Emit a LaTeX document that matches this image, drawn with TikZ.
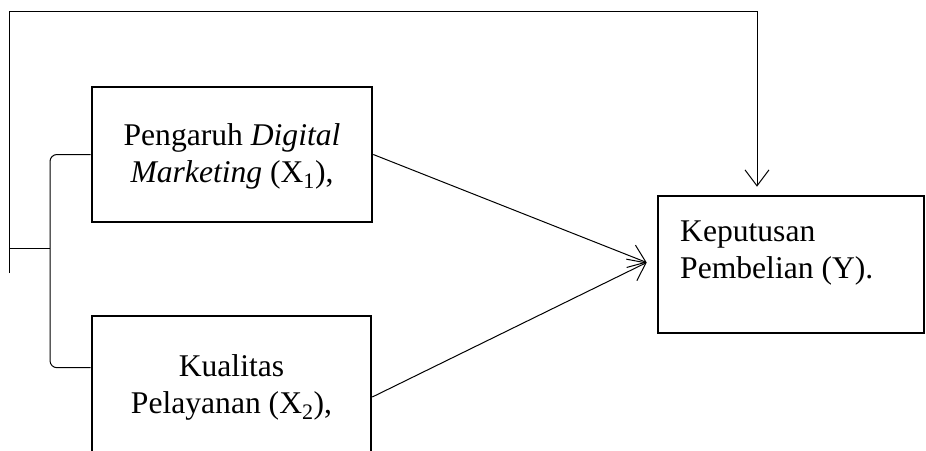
\documentclass[tikz,border=0pt]{standalone}
\usepackage{fontspec}
\setmainfont{Liberation Serif}
\usetikzlibrary{arrows.meta,calc}
\begin{document}
\begin{tikzpicture}[x=1pt,y=-1pt,
  box/.style={draw, line width=2.6pt, rectangle, inner sep=0pt},
  link/.style={line width=1pt},
  arr/.style={link, -{Straight Barb[length=16pt,width=24pt,line width=1pt]}},
  lbl/.style={font=\fontsize{31.6}{37}\selectfont, inner sep=0pt},
]
\useasboundingbox (0,0) rectangle (926,450);

% variable boxes
\node[box, minimum width=280pt, minimum height=135pt] (x1) at (232,154.5) {};
\node[box, minimum width=279pt, minimum height=162pt] (x2) at (231.5,397) {};
\node[box, minimum width=266pt, minimum height=137pt] (y) at (791,264.5) {};

% box texts (anchored on the baseline of the last line)
\node[lbl, align=center, anchor=base] (t1) at (232,182)
  {Pengaruh \textit{Digital}\\\textit{Marketing} (X\textsubscript{1}),};
\node[lbl, align=center, anchor=base] (t2) at (231.5,413)
  {Kualitas\\Pelayanan (X\textsubscript{2}),};
\node[lbl, align=left, anchor=base west] (t3) at (680,278)
  {Keputusan\\Pembelian (Y).};

% helper points
\coordinate (meet) at ($(y.west)+(-10,-2)$);
\coordinate (hook2) at ($(x2.north west)+(0,53)$);
\coordinate (spine) at (50,248);
\coordinate (root) at (9,248);
\coordinate (topY) at ($(y.north)+(-34,-8)$);

% bracket joining the two independent variables
\draw[link, rounded corners=7pt] (x1.west) -- (x1.west -| spine) -- (hook2 -| spine) -- (hook2);
\draw[link] (root) -- (spine);

% simultaneous path over the top
\draw[link] (9,273) -- (root);
\draw[arr] (root) -- (9,11) -- (topY |- 0,11) -- (topY);

% partial effects
\draw[arr] (x1.east) -- (meet);
\draw[arr] (x2.east) -- (meet);
\end{tikzpicture}
\end{document}
